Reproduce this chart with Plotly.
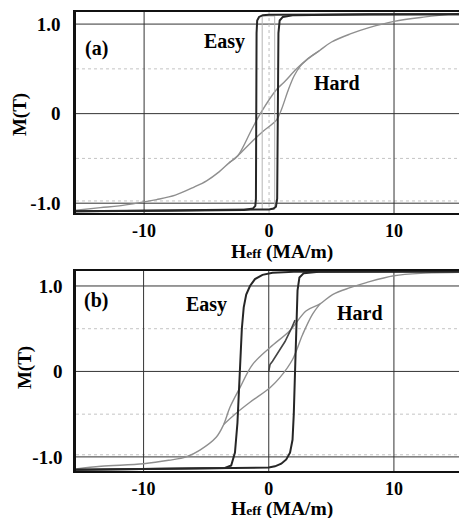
import plotly.graph_objects as go

# ---------------- data ----------------
# Panel (a)
a_easy_desc_H = [15.2, 5, 0, -0.5, -0.8, -0.95, -1.0, -1.05, -1.1, -1.3, -2, -8, -15.5]
a_easy_desc_M = [1.11, 1.11, 1.105, 1.1, 1.08, 1.04, 0.9, -0.95, -1.03, -1.06, -1.075, -1.085, -1.09]
a_easy_asc_H = [-15.5, -5, 0, 0.35, 0.55, 0.65, 0.7, 0.75, 0.85, 1.1, 2, 8, 15.2]
a_easy_asc_M = [-1.09, -1.08, -1.07, -1.06, -1.04, -0.95, 0.0, 0.9, 1.04, 1.08, 1.1, 1.11, 1.11]
a_inner_H = [-0.55, -0.55, 0.45, 0.45, -0.55]
a_inner_M = [1.09, -1.07, -1.07, 1.09, 1.09]
a_hard_up_H = [15.2, 12.5, 10, 8, 6.5, 5, 4, 3, 2.2, 1.2, 0.6, -0.7, -1.4, -2.5, -3.2, -4, -5, -6, -7.5, -9, -10, -12, -13.5, -15.5]
a_hard_up_M = [1.12, 1.08, 1.03, 0.96, 0.89, 0.8, 0.7, 0.6, 0.5, 0.35, 0.27, 0.0, -0.18, -0.47, -0.55, -0.65, -0.75, -0.82, -0.91, -0.96, -0.985, -1.03, -1.05, -1.08]
a_hard_low_H = [-3.2, -2.5, -1.5, -0.5, 0.6, 1.0, 1.5, 2.0, 2.5, 3.0, 4.0]
a_hard_low_M = [-0.55, -0.47, -0.33, -0.2, -0.07, 0.05, 0.25, 0.42, 0.53, 0.6, 0.7]

# Panel (b)
b_easy_desc_H = [15.2, 8, 2, 0.3, -0.5, -1.1, -1.5, -1.8, -2.0, -2.15, -2.3, -2.5, -2.7, -3.0, -3.5, -8, -15.4]
b_easy_desc_M = [1.17, 1.17, 1.165, 1.155, 1.13, 1.08, 1.0, 0.9, 0.75, 0.5, 0.0, -0.6, -0.95, -1.1, -1.13, -1.14, -1.15]
b_easy_asc_H = [-15.4, -8, -2, 0, 0.5, 1.0, 1.4, 1.7, 1.9, 2.0, 2.1, 2.2, 2.3, 2.45, 2.8, 4, 15.2]
b_easy_asc_M = [-1.15, -1.14, -1.135, -1.125, -1.11, -1.08, -1.03, -0.95, -0.8, -0.5, 0.0, 0.6, 0.95, 1.1, 1.15, 1.165, 1.17]
b_init_H = [0, 0.1, 0.3, 0.8, 1.3, 1.8, 2.1]
b_init_M = [0.0, 0.08, 0.12, 0.23, 0.35, 0.5, 0.6]
b_hard_up_H = [-15.4, -13.4, -10, -8, -6.6, -5.5, -4.2, -3.6, -3.1, -2.3, -1.3, 0.1, 1.7, 3.0, 4.1, 5.1, 6.5, 7.8, 10, 12.5, 15.2]
b_hard_up_M = [-1.14, -1.11, -1.08, -1.04, -1.0, -0.92, -0.77, -0.62, -0.42, -0.19, 0.08, 0.28, 0.48, 0.71, 0.79, 0.9, 0.98, 1.04, 1.12, 1.15, 1.16]
b_hard_low_H = [-3.6, -2.7, -1.5, 0.1, 0.9, 1.9, 2.7, 3.5, 4.1]
b_hard_low_M = [-0.62, -0.5, -0.36, -0.19, -0.07, 0.14, 0.43, 0.67, 0.79]

x_tickvals = [-10, 0, 10]
x_ticktext = ["-10", "0", "10"]
y_tickvals = [-1, 0, 1]
y_ticktext = ["-1.0", "0", "1.0"]

EASY = "#262626"
HARD = "#8f8f8f"
FONT = "Liberation Serif"

fig = go.Figure()

def line(x, y, xa, ya, color, width, shape="linear"):
    fig.add_trace(go.Scatter(x=x, y=y, mode="lines", xaxis=xa, yaxis=ya,
                             line=dict(color=color, width=width, shape=shape),
                             hoverinfo="skip", showlegend=False))

# panel a
line(a_hard_up_H, a_hard_up_M, "x", "y", HARD, 1.4, "spline")
line(a_hard_low_H, a_hard_low_M, "x", "y", HARD, 1.4, "spline")
line(a_inner_H, a_inner_M, "x", "y", "#b5b5b5", 1.0)
line(a_easy_desc_H, a_easy_desc_M, "x", "y", EASY, 2.0)
line(a_easy_asc_H, a_easy_asc_M, "x", "y", EASY, 2.0)
# panel b
line(b_hard_up_H, b_hard_up_M, "x2", "y2", HARD, 1.4, "spline")
line(b_hard_low_H, b_hard_low_M, "x2", "y2", HARD, 1.4, "spline")
line(b_easy_desc_H, b_easy_desc_M, "x2", "y2", EASY, 2.0)
line(b_easy_asc_H, b_easy_asc_M, "x2", "y2", EASY, 2.0)
line(b_init_H, b_init_M, "x2", "y2", "#444444", 1.6)

xtickfont = dict(family=FONT, size=18, color="black")
ytickfont = dict(family=FONT, size=19, color="black")
ax_common = dict(showgrid=False, zeroline=False, showline=True, linecolor="#111", ticks="")

fig.update_layout(
    width=459, height=518,
    margin=dict(l=76, r=0, t=12, b=47),
    paper_bgcolor="white", plot_bgcolor="white",
    xaxis=dict(domain=[0, 1], anchor="y", range=[-15.45, 15.2], tickvals=x_tickvals,
               ticktext=x_ticktext, linewidth=2, mirror=True, ticklabelstandoff=0,
               tickfont=xtickfont, **ax_common),
    yaxis=dict(domain=[0.562, 1.0], anchor="x", range=[-1.11, 1.135], tickvals=y_tickvals,
               ticktext=y_ticktext, linewidth=2.5, ticklabelstandoff=9,
               tickfont=ytickfont, **ax_common),
    xaxis2=dict(domain=[0, 1], anchor="y2", range=[-15.4, 15.2], tickvals=x_tickvals,
                ticktext=x_ticktext, linewidth=2, mirror=True, ticklabelstandoff=0,
                tickfont=xtickfont, **ax_common),
    yaxis2=dict(domain=[0.0, 0.4357], anchor="x2", range=[-1.165, 1.175], tickvals=y_tickvals,
                ticktext=y_ticktext, linewidth=2.5, ticklabelstandoff=7,
                tickfont=ytickfont, **ax_common),
)

shapes = []
def hgrid(yv, yref, xref, color, dash, width=1):
    shapes.append(dict(type="line", xref=xref + " domain", yref=yref, x0=0, x1=1, y0=yv, y1=yv,
                       line=dict(color=color, width=width, dash=dash), layer="below"))
def vgrid(xv, xref, yref, color, dash, width=1):
    shapes.append(dict(type="line", xref=xref, yref=yref + " domain", x0=xv, x1=xv, y0=0, y1=1,
                       line=dict(color=color, width=width, dash=dash), layer="below"))

for xr, yr in (("x", "y"), ("x2", "y2")):
    for v in (-1, 0, 1):
        hgrid(v, yr, xr, "#333", "solid")
    for v in (-0.5, 0.5):
        hgrid(v, yr, xr, "#c4c4c4", "dot")
    hgrid(-0.975, yr, xr, "#c4c4c4", "dot")
    vgrid(-10, xr, yr, "#333", "solid")
    vgrid(10, xr, yr, "#333", "solid")
vgrid(0, "x", "y", "#bdbdbd", "dot")
vgrid(0, "x2", "y2", "#333", "solid")
fig.update_layout(shapes=shapes)

ann = []
def txt(t, x, y, xref, yref, size=20, angle=0):
    ann.append(dict(text=t, x=x, y=y, xref=xref, yref=yref, showarrow=False,
                    font=dict(family=FONT, size=size, color="black"), textangle=angle,
                    xanchor="center", yanchor="middle"))

txt("<b>(a)</b>", -13.8, 0.73, "x", "y")
txt("<b>Easy</b>", -3.6, 0.81, "x", "y")
txt("<b>Hard</b>", 5.45, 0.34, "x", "y")
txt("<b>(b)</b>", -13.8, 0.83, "x2", "y2")
txt("<b>Easy</b>", -5.0, 0.78, "x2", "y2")
txt("<b>Hard</b>", 7.3, 0.68, "x2", "y2")
xt = "<b>H<span style='font-size:13.5px'>eff</span> (MA/m)</b>"
txt(xt, 0.537, 0.477, "paper", "paper", 19.5)
txt(xt, 0.537, -0.0828, "paper", "paper", 19.5)
txt("<b>M(T)</b>", -0.146, 0.7756, "paper", "paper", 19, -90)
txt("<b>M(T)</b>", -0.133, 0.2244, "paper", "paper", 19, -90)
fig.update_layout(annotations=ann)

fig.update_xaxes(ticktext=["<b>%s</b>" % t for t in x_ticktext])
fig.update_yaxes(ticktext=["<b>%s</b>" % t for t in y_ticktext])

fig.write_html("out.html", config={"displayModeBar": False},
               post_script="document.body.style.margin='0';document.body.style.overflow='hidden';")
